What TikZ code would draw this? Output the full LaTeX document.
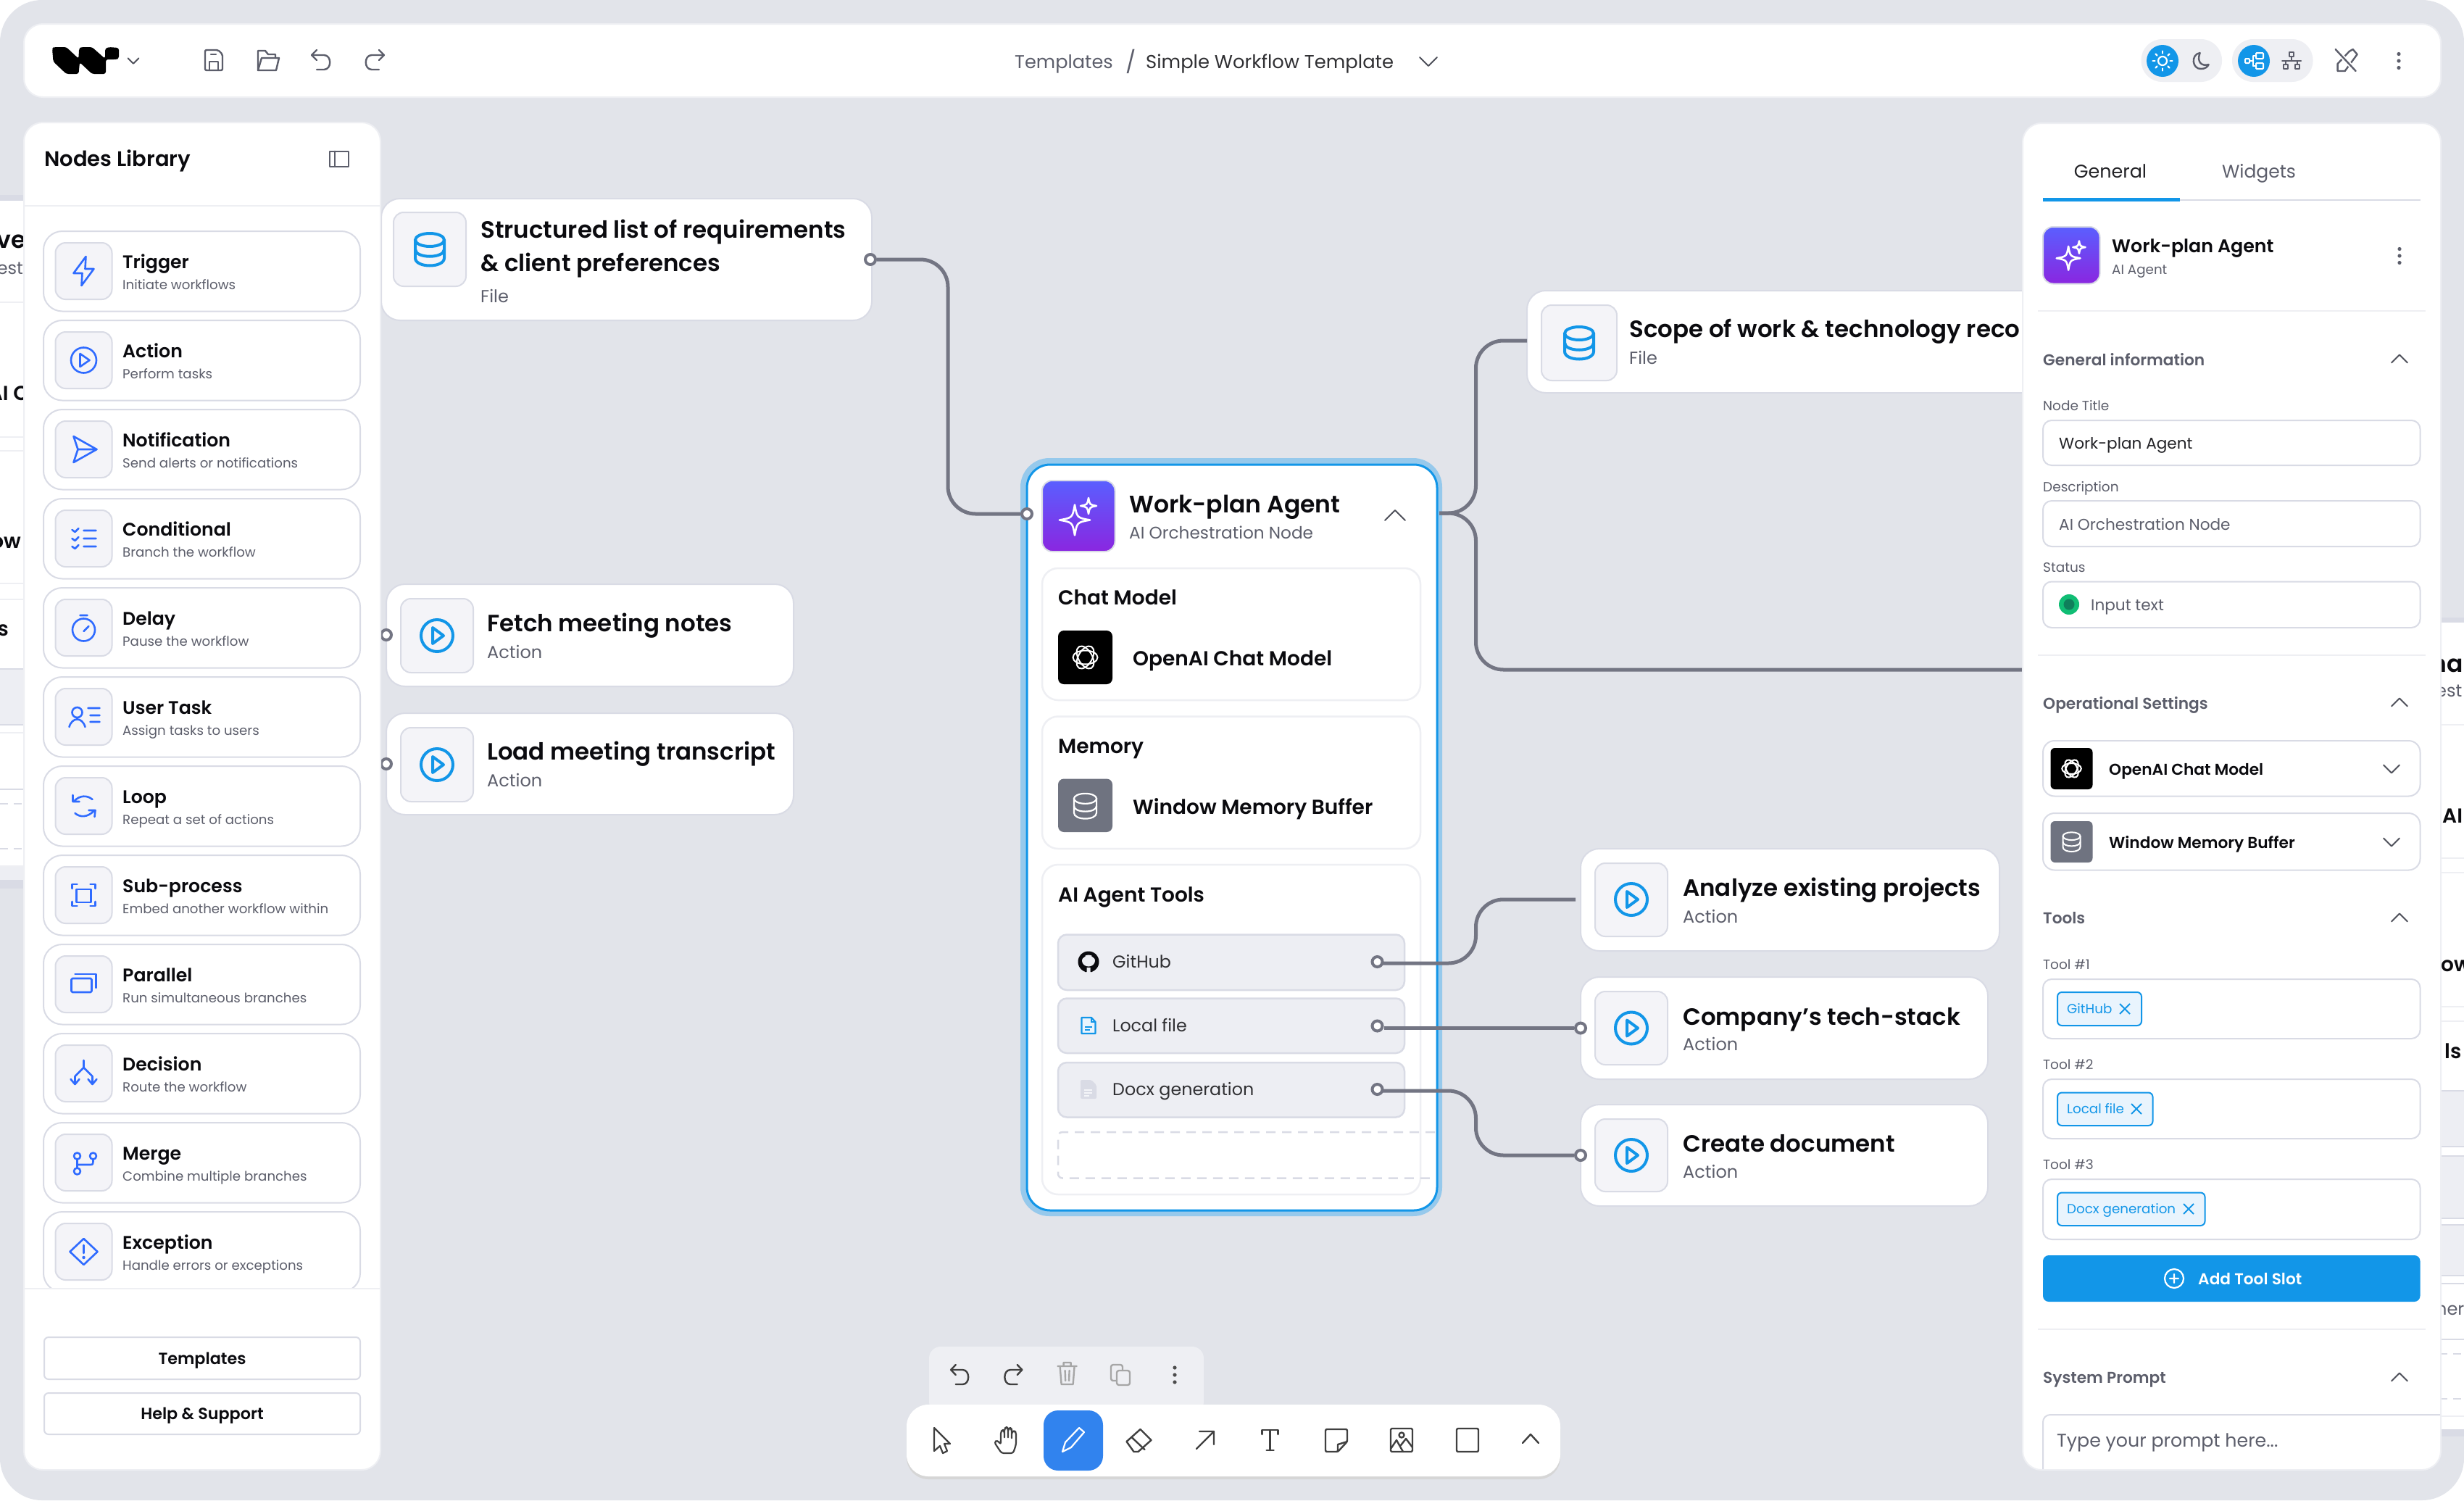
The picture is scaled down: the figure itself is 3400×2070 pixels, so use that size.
\documentclass[tikz,border=0pt]{standalone}
\usepackage{fontspec}
\setmainfont{Poppins}
\newfontfamily\pmed{Poppins Medium}
\newfontfamily\psem{Poppins SemiBold}
\usetikzlibrary{calc}
\definecolor{bgc}{HTML}{E2E4EA}
\definecolor{ink}{HTML}{0B0B0F}
\definecolor{mut}{HTML}{5C5E6B}
\definecolor{bord}{HTML}{D9DBE5}
\definecolor{soft}{HTML}{EEEFF3}
\definecolor{tile}{HTML}{F4F4F8}
\definecolor{row}{HTML}{EDEEF3}
\definecolor{lib}{HTML}{2F6BFF}
\definecolor{sky}{HTML}{1296E8}
\definecolor{glow}{HTML}{96C9EC}
\definecolor{wire}{HTML}{737583}
\definecolor{slate}{HTML}{6F7380}
\definecolor{tagbg}{HTML}{E9F4FD}
\definecolor{tbblue}{HTML}{3183EE}
\definecolor{grn}{HTML}{10BD74}
\definecolor{grnd}{HTML}{0F7F5B}
\definecolor{pur1}{HTML}{5A5FFF}
\definecolor{pur2}{HTML}{8A26E0}
\newcommand{\fR}[1]{\fontsize{#1}{#1}\selectfont}
\newcommand{\fM}[1]{\pmed\fontsize{#1}{#1}\selectfont}
\newcommand{\fS}[1]{\psem\fontsize{#1}{#1}\selectfont}
% box: style, name, x0,y0,x1,y1
\newcommand{\bx}[6]{\pgfmathsetmacro\bxw{#5-#3}\pgfmathsetmacro\bxh{#6-#4}\node[#1,anchor=north west,minimum width=\bxw pt,minimum height=\bxh pt,inner sep=0pt,outer sep=0pt] (#2) at (#3,#4) {};}
% label: name,x,y,font,colour,text
\newcommand{\lab}[6]{\node[anchor=base west,inner sep=0pt,text=#5,font=#4] (#1) at (#2,#3) {\raisebox{-.37em}{#6}};}
\newcommand{\labc}[6]{\node[anchor=base,inner sep=0pt,text=#5,font=#4] (#1) at (#2,#3) {\raisebox{-.37em}{#6}};}
\newcommand{\labe}[6]{\node[anchor=base east,inner sep=0pt,text=#5,font=#4] (#1) at (#2,#3) {\raisebox{-.37em}{#6}};}
% icons
\newcommand{\chevup}[3]{\draw[chev] (#1-#3,#2+#3*.5) -- (#1,#2-#3*.5) -- (#1+#3,#2+#3*.5);}
\newcommand{\chevdn}[3]{\draw[chev] (#1-#3,#2-#3*.5) -- (#1,#2+#3*.5) -- (#1+#3,#2-#3*.5);}
\newcommand{\kebab}[4]{\fill[#4] (#1,#2-#3) circle (2.6) (#1,#2) circle (2.6) (#1,#2+#3) circle (2.6);}
\newcommand{\play}[4]{\begin{scope}[shift={(#1,#2)},scale=#3]\draw[#4] (0,0) circle (22);\draw[#4,line join=round] (-6,-11) -- (9,0) -- (-6,11) -- cycle;\end{scope}}
\newcommand{\dbicon}[4]{\begin{scope}[shift={(#1,#2)},xscale=#3,yscale=#3]\draw[#4] (0,-13) ellipse (20 and 9);\draw[#4] (-20,-13) -- (-20,12) .. controls (-20,26) and (20,26) .. (20,12) -- (20,-13);\draw[#4] (-20,0) .. controls (-20,13) and (20,13) .. (20,0);\end{scope}}
\newcommand{\starpath}[3]{\draw[white,line width=2.6pt,line join=round] (#1,#2-#3) .. controls (#1+.15*#3,#2-.15*#3) .. (#1+#3,#2) .. controls (#1+.15*#3,#2+.15*#3) .. (#1,#2+#3) .. controls (#1-.15*#3,#2+.15*#3) .. (#1-#3,#2) .. controls (#1-.15*#3,#2-.15*#3) .. (#1,#2-#3) -- cycle;}
\newcommand{\sparkle}[3]{\begin{scope}[shift={(#1,#2)},scale=#3]\starpath{-5}{5.5}{21}\starpath{14}{-14}{11}\end{scope}}
\newcommand{\oai}[3]{\begin{scope}[shift={(#1,#2)},scale=#3]\foreach \oa in {0,60,120}{\draw[white,line width=2pt,rotate=\oa] (0,0) ellipse (17 and 9.5);}\end{scope}}
\newcommand{\undoic}[4]{\begin{scope}[shift={(#1,#2)},xscale=#3]\draw[#4] (-6,-14) -- (-13,-7) -- (-6,0);\draw[#4] (-13,-7) -- (4,-7) .. controls (15,-7) and (15,13) .. (4,13) -- (-6,13);\end{scope}}
\tikzset{
 chev/.style={draw=slate!70!black,line width=2pt,line cap=round,line join=round},
 ln/.style={draw=mut,line width=2.4pt,line cap=round,line join=round},
 ib/.style={draw=lib,line width=2.6pt,line cap=round,line join=round},
 wh/.style={draw=white,line width=2.2pt,line cap=round,line join=round},
 tb/.style={draw=black!75,line width=2.4pt,line cap=round,line join=round},
 gr/.style={draw=black!35,line width=2.4pt,line cap=round,line join=round},
 panel/.style={fill=white,draw=soft,line width=2pt,rounded corners=26pt},
 cardn/.style={fill=white,draw=bord,line width=2pt,rounded corners=26pt},
 libcard/.style={fill=white,draw=bord,line width=2pt,rounded corners=26pt},
 tilebox/.style={fill=tile,draw=bord,line width=2pt,rounded corners=14pt},
 section/.style={fill=white,draw=soft,line width=2.5pt,rounded corners=22pt},
 toolrow/.style={fill=row,draw=bord,line width=2.5pt,rounded corners=12pt},
 field/.style={fill=white,draw=bord,line width=2pt,rounded corners=12pt},
 tagn/.style={fill=tagbg,draw=sky,line width=2pt,rounded corners=6pt},
 btn/.style={fill=white,draw=bord,line width=2pt,rounded corners=6pt},
 conn/.style={draw=wire,line width=5pt},
 port/.style={circle,fill=white,draw=wire,line width=4pt,minimum size=14pt,inner sep=0pt},
 purple/.style={top color=pur1,bottom color=pur2,draw=bord,line width=2pt,rounded corners=14pt},
 div/.style={draw=soft,line width=2pt},
 strip/.style={draw=#1,line width=2pt},
}
% library card: name, top, icon code, title, sub
\newcommand{\libitem}[5]{%
 \pgfmathsetmacro\ty{#2}\pgfmathsetmacro\tbt{#2+110.5}
 \bx{libcard}{#1}{60}{\ty}{497}{\tbt}
 \pgfmathsetmacro\ia{#2+16}\pgfmathsetmacro\ib{#2+94}
 \bx{tilebox}{#1i}{76.5}{\ia}{154.5}{\ib}
 \pgfmathsetmacro\ic{#2+55}
 \begin{scope}[shift={(115.5,\ic)}]#3\end{scope}
 \pgfmathsetmacro\la{#2+42}\pgfmathsetmacro\lbb{#2+74}
 \lab{#1t}{169}{\la}{\fS{25.2}}{ink}{#4}
 \lab{#1s}{169}{\lbb}{\fR{18.2}}{mut}{#5}
}
\begin{document}
\begin{tikzpicture}[x=1pt,y=-1pt]
\useasboundingbox (0,0) rectangle (3400,2070);
\fill[white] (0,0) rectangle (3400,2070);
\fill[bgc,rounded corners=58pt] (0,0) rectangle (3400,2070);

% ---------- background fragments
\fill[bord] (0,269) rectangle (34,1226);
\fill[white] (0,277) rectangle (34,1215);
\fill[row] (0,923) rectangle (34,1000);
\fill[row] (0,1195) rectangle (34,1215);
\foreach \yy in {417,603,622,805,827,1011,1195}{\draw[strip=soft] (0,\yy) -- (34,\yy);}
\foreach \yy in {923,1000,1089,1215}{\draw[strip=bord] (0,\yy) -- (34,\yy);}
\draw[strip=bord,dash pattern=on 11pt off 8pt] (0,1109) -- (34,1109) (0,1171) -- (34,1171);
\labe{fragA}{36}{330}{\fS{33}}{ink}{ve}
\labe{fragB}{38}{370}{\fR{24}}{mut}{esti}
\labe{fragC}{40}{542}{\fS{28}}{ink}{AI C}
\labe{fragD}{29}{746}{\fS{28}}{ink}{ow}
\labe{fragE}{12}{867}{\fS{28}}{ink}{s}
\fill[bord] (3366,852) rectangle (3400,1982);
\fill[white] (3366,859) rectangle (3400,1972);
\fill[row] (3366,1505) rectangle (3400,1582);
\fill[row] (3366,1595) rectangle (3400,1681);
\fill[row] (3366,1690) rectangle (3400,1760);
\foreach \yy in {1000,1184,1204,1389,1409,1954}{\draw[strip=soft] (3366,\yy) -- (3400,\yy);}
\foreach \yy in {1505,1582,1595,1681,1690,1760,1771,1848}{\draw[strip=bord] (3366,\yy) -- (3400,\yy);}
\draw[strip=bord,dash pattern=on 11pt off 8pt] (3366,1868) -- (3400,1868) (3366,1930) -- (3400,1930);
\lab{fragF}{3354}{915}{\fS{33}}{ink}{na}
\lab{fragG}{3361}{953}{\fR{24}}{mut}{est}
\lab{fragH}{3370}{1125}{\fS{28}}{ink}{AI}
\lab{fragI}{3368}{1330}{\fS{28}}{ink}{ow}
\lab{fragJ}{3373}{1450}{\fS{28}}{ink}{ls}
\lab{fragK}{3361}{1806}{\fR{24}}{mut}{ner}

% ---------- canvas nodes
\bx{cardn}{cStruct}{526}{274}{1203}{442}
\bx{tilebox}{cStructI}{543}{293}{643}{395}
\dbicon{593}{344}{1}{draw=sky,line width=4pt}
\lab{cStructT1}{663}{316}{\fS{32.5}}{ink}{Structured list of requirements}
\lab{cStructT2}{663}{362}{\fS{32.5}}{ink}{\& client preferences}
\lab{cStructS}{663}{409}{\fR{24}}{mut}{File}

\bx{cardn}{cScope}{2107}{401}{2830}{542}
\bx{tilebox}{cScopeI}{2127}{421}{2231}{525}
\dbicon{2179}{473}{1}{draw=sky,line width=4pt}
\lab{cScopeT}{2248}{453}{\fS{32.5}}{ink}{Scope of work \& technology reco}
\lab{cScopeS}{2248}{494}{\fR{24}}{mut}{File}

\bx{cardn}{cFetch}{533}{806}{1095}{947}
\bx{tilebox}{cFetchI}{553}{826}{653}{928}
\play{603}{877}{1}{draw=sky,line width=4pt}
\lab{cFetchT}{672}{859}{\fS{32.5}}{ink}{Fetch meeting notes}
\lab{cFetchS}{672}{900}{\fR{24}}{mut}{Action}

\bx{cardn}{cLoad}{533}{984}{1095}{1124}
\bx{tilebox}{cLoadI}{553}{1004}{653}{1106}
\play{603}{1055}{1}{draw=sky,line width=4pt}
\lab{cLoadT}{672}{1036}{\fS{32.5}}{ink}{Load meeting transcript}
\lab{cLoadS}{672}{1077}{\fR{24}}{mut}{Action}

\bx{cardn}{cAnalyze}{2181}{1171}{2759}{1312}
\bx{tilebox}{cAnalyzeI}{2201}{1191}{2301}{1292}
\play{2251}{1241}{1}{draw=sky,line width=4pt}
\lab{cAnalyzeT}{2322}{1224}{\fS{32.5}}{ink}{Analyze existing projects}
\lab{cAnalyzeS}{2322}{1265}{\fR{24}}{mut}{Action}

\bx{cardn}{cStack}{2181}{1348}{2743}{1489}
\bx{tilebox}{cStackI}{2201}{1368}{2301}{1469}
\play{2251}{1418.5}{1}{draw=sky,line width=4pt}
\lab{cStackT}{2322}{1402}{\fS{32.5}}{ink}{Company’s tech-stack}
\lab{cStackS}{2322}{1441}{\fR{24}}{mut}{Action}

\bx{cardn}{cDoc}{2181}{1524}{2743}{1664}
\bx{tilebox}{cDocI}{2201}{1544}{2301}{1644}
\play{2251}{1594}{1}{draw=sky,line width=4pt}
\lab{cDocT}{2322}{1577}{\fS{32.5}}{ink}{Create document}
\lab{cDocS}{2322}{1617}{\fR{24}}{mut}{Action}

% ---------- main agent card
\bx{fill=glow,rounded corners=40pt}{mGlow}{1408}{632}{1990}{1678}
\bx{fill=white,draw=sky,line width=3pt,rounded corners=32pt}{mCard}{1417}{641}{1983}{1670}
\bx{purple}{mIcon}{1438}{663}{1538.5}{761}
\sparkle{1488}{712}{1}
\lab{mTitle}{1558}{695}{\fS{33}}{ink}{Work-plan Agent}
\lab{mSub}{1558}{735}{\fR{23.2}}{mut}{AI Orchestration Node}
\chevup{1925}{711}{14}
\bx{section}{sChat}{1438}{784}{1960}{966}
\lab{sChatT}{1460}{824}{\fS{28}}{ink}{Chat Model}
\bx{fill=black,rounded corners=8pt}{sChatI}{1460}{870}{1535}{944}
\oai{1497.5}{907}{1}
\lab{sChatN}{1563}{908}{\fS{28}}{ink}{OpenAI Chat Model}
\bx{section}{sMem}{1438}{988.5}{1960}{1171}
\lab{sMemT}{1460}{1029}{\fS{28}}{ink}{Memory}
\bx{fill=slate,rounded corners=8pt}{sMemI}{1460}{1074.5}{1535}{1148}
\dbicon{1497.5}{1112}{.78}{draw=white,line width=2.2pt}
\lab{sMemN}{1563}{1113}{\fS{28}}{ink}{Window Memory Buffer}
\bx{section}{sTool}{1438}{1193}{1960}{1648}
\lab{sToolT}{1460}{1234}{\fS{28}}{ink}{AI Agent Tools}
\bx{toolrow}{rGit}{1460}{1289.5}{1938}{1366}
\bx{toolrow}{rLoc}{1460}{1377.5}{1938}{1453}
\bx{toolrow}{rDoc}{1460}{1466}{1938}{1541.5}
\lab{rGitT}{1535}{1327}{\fR{23.8}}{ink!85}{GitHub}
\lab{rLocT}{1535}{1415}{\fR{23.8}}{ink!85}{Local file}
\lab{rDocT}{1535}{1503}{\fR{23.8}}{ink!85}{Docx generation}
% github mark
\begin{scope}[shift={(1502,1327)}]
 \fill[ink] (0,0) circle (14.5);
 \fill[row] (0,-1.5) ellipse (9 and 8);
 \fill[row] (-5,8) rectangle (5,16);
 \fill[ink] (-10,-11) -- (-4,-8) -- (-9,-4) -- cycle (10,-11) -- (4,-8) -- (9,-4) -- cycle;
 \fill[ink] (-5,7) rectangle (-2.5,14) (2.5,7) rectangle (5,14);
 \fill[row] (-16,15) rectangle (16,17);
\end{scope}
% local file
\begin{scope}[shift={(1502,1415)}]
 \draw[draw=sky,line width=2.2pt,line join=round,fill=tagbg] (-9.5,-11) -- (4,-11) -- (9.5,-5) -- (9.5,11) -- (-9.5,11) -- cycle;
 \draw[draw=sky,line width=1.8pt] (4,-11) -- (4,-5) -- (9.5,-5) (-5,2) -- (5,2) (-5,6) -- (2,6);
\end{scope}
% docx
\begin{scope}[shift={(1502,1503)}]
 \fill[bord,rounded corners=2pt] (-11,-13) -- (4,-13) -- (11,-6) -- (11,13) -- (-11,13) -- cycle;
 \draw[draw=row!60!white,line width=1.4pt] (-6,1) -- (5,1) (-6,5) -- (5,5) (-6,9) -- (1,9);
\end{scope}
\draw[draw=bord,line width=2.5pt,dash pattern=on 13pt off 9pt,rounded corners=6pt] (1980,1562) -- (1460,1562) -- (1460,1625.5) -- (1980,1625.5);

% ---------- connectors
\coordinate (busL) at (1308,0);
\coordinate (busR) at (2036.5,0);
\coordinate (mOut) at (1986,708);
\coordinate (scopeIn) at (2107,470);
\coordinate (rightOut) at (2830,924);
\coordinate (analyzeIn) at (2174,1241);
\coordinate (gitOut) at (1908,1329);
\coordinate (docOut) at (1908,1505);
\node[port] (pStruct) at (1201,358) {};
\node[port] (pMain) at (1417,709) {};
\node[port] (pFetch) at (533,876) {};
\node[port] (pLoad) at (533,1054) {};
\node[port] (pGit) at (1900.5,1327) {};
\node[port] (pLoc) at (1900.5,1415.5) {};
\node[port] (pDoc) at (1900.5,1503) {};
\node[port] (pStack) at (2181,1418.5) {};
\node[port] (pCreate) at (2181,1594) {};
\draw[conn,rounded corners=38pt] (pStruct.east) -- (pStruct.center -| busL) -- (pMain.center -| busL) -- (pMain.west);
\draw[conn,rounded corners=38pt] (mOut) -- (mOut -| busR) -- (scopeIn -| busR) -- (scopeIn);
\draw[conn,rounded corners=38pt] (mOut) -- (mOut -| busR) -- (rightOut -| busR) -- (rightOut);
\draw[conn,rounded corners=38pt] (gitOut) -- (gitOut -| busR) -- (analyzeIn -| busR) -- (analyzeIn);
\draw[conn] (pLoc.east |- pStack.center) -- (pStack.west);
\draw[conn,rounded corners=38pt] (docOut) -- (docOut -| busR) -- (pCreate.center -| busR) -- (pCreate.west);

% ---------- top bar
\bx{panel}{topbar}{33}{33}{3368}{134}
\fill[black,rounded corners=3pt] (74,65) -- (91.5,65) -- (108.5,81) -- (109,67) -- (112,65) -- (127,65) -- (145,81) -- (145,67) -- (150,65) -- (164,66) -- (164,81) -- (160,82) -- (146,82) -- (146,102) -- (127,102) -- (110,86) -- (108.5,102) -- (91.5,102) -- (73.5,85) -- (72,67) -- cycle;
\chevdn{184}{84}{7.5}
\begin{scope}[shift={(295,83)}]
 \draw[ln,rounded corners=2pt] (-12,-14) -- (6,-14) -- (12,-8) -- (12,14) -- (-12,14) -- cycle;
 \draw[ln] (-6,14) -- (-6,2) -- (6,2) -- (6,14) (-4,-8) -- (3,-8);
\end{scope}
\begin{scope}[shift={(370,83)}]
 \draw[ln] (-14,14) -- (-14,-13) -- (-4,-13) -- (0,-8) -- (10,-8) -- (10,-3);
 \draw[ln] (-14,14) -- (-9,-3) -- (15,-3) -- (11,14) -- cycle;
\end{scope}
\undoic{443}{83}{1}{ln}
\undoic{517}{83}{-1}{ln}
\lab{crumbA}{1400}{85}{\fR{25.6}}{mut}{Templates}
\lab{crumbS}{1553}{85}{\fR{30}}{mut}{/}
\lab{crumbB}{1581}{85}{\fR{25.8}}{ink!85}{Simple Workflow Template}
\chevdn{1971}{85}{12}
\bx{fill=soft,rounded corners=29pt}{pillA}{2954.5}{54}{3066}{113}
\bx{fill=soft,rounded corners=29pt}{pillB}{3080}{54}{3191.5}{113}
\node[circle,fill=sky,minimum size=44pt,inner sep=0pt] (onA) at (2984,84) {};
\node[circle,fill=sky,minimum size=44pt,inner sep=0pt] (onB) at (3110,84) {};
\begin{scope}[shift={(2984,84)}]
 \draw[wh] (0,0) circle (6);
 \foreach \sa in {0,45,...,315}{\draw[wh] (\sa:10.5) -- (\sa:13.5);}
\end{scope}
\begin{scope}[shift={(3036.6,84)}]
 \draw[ln] (-1,-11) .. controls (-14,-9) and (-12,12) .. (1,11) .. controls (6,11) and (10,8) .. (11,5) .. controls (2,8) and (-6,2) .. (-1,-11) -- cycle;
\end{scope}
\begin{scope}[shift={(3110,84)}]
 \draw[wh,line width=2pt,rounded corners=1pt] (-12,-3) rectangle (-6,3) (3,-11) rectangle (13,-3) (3,3) rectangle (13,11);
 \draw[wh,line width=2pt] (-6,0) -- (-1,0) (-1,-7) -- (-1,7) (-1,-7) -- (3,-7) (-1,7) -- (3,7);
\end{scope}
\begin{scope}[shift={(3162,84)}]
 \draw[ln,line width=2pt] (-3,-12) rectangle (3,-6) (-11,5) rectangle (-5,11) (5,5) rectangle (11,11);
 \draw[ln,line width=2pt] (0,-6) -- (0,0) (-13,0) -- (13,0) (-8,0) -- (-8,5) (8,0) -- (8,5);
\end{scope}
\begin{scope}[shift={(3236.6,83)}]
 \draw[ln] (-11,15) -- (-11,5) -- (5,-12) -- (10,-15) -- (16,-8) -- (-1,15) -- cycle;
 \draw[draw=white,line width=6pt] (-14,-15) -- (14,15);
 \draw[ln] (-14,-15) -- (14,15);
\end{scope}
\kebab{3310}{84}{9.5}{mut}

% ---------- left panel
\bx{panel}{leftP}{33}{169}{525}{2028}
\lab{libT}{61}{219}{\fS{29}}{ink}{Nodes Library}
\begin{scope}[shift={(468,219)}]
 \draw[ln,line width=2pt] (-13,-10.5) rectangle (13,10.5) (-6.5,-10.5) -- (-6.5,10.5);
\end{scope}
\draw[div] (33,284) -- (525,284);
\begin{scope}
\clip (33,284) rectangle (525,1778);
\libitem{lTrigger}{319}{\draw[ib] (3,-20) -- (-14,3) -- (-2,3) -- (-3,20) -- (14,-3) -- (2,-3) -- cycle;}{Trigger}{Initiate workflows}
\libitem{lAction}{442}{\draw[ib] (0,0) circle (17.5);\draw[ib] (-5,-9) -- (8,0) -- (-5,9) -- cycle;}{Action}{Perform tasks}
\libitem{lNotif}{565}{\draw[ib] (-14,-18) -- (18,0) -- (-14,18) -- (-8,0) -- cycle (-8,0) -- (18,0);}{Notification}{Send alerts or notifications}
\libitem{lCond}{688}{\draw[ib] (-16,-12) -- (-12,-9) -- (-7,-14) (-16,0) -- (-12,3) -- (-7,-2) (-16,11) -- (-12,14) -- (-7,9) (0,-11) -- (17,-11) (0,0) -- (17,0) (0,11) -- (17,11);}{Conditional}{Branch the workflow}
\libitem{lDelay}{811}{\draw[ib] (0,3) circle (15.5) (-5,-17) -- (5,-17) (0,5) -- (7,-2);}{Delay}{Pause the workflow}
\libitem{lUser}{934}{\draw[ib] (-9,-6) circle (7) (-20,14) .. controls (-16,0) and (-2,0) .. (2,14) (6,-12) -- (22,-12) (9,-2) -- (22,-2) (9,7) -- (22,7);}{User Task}{Assign tasks to users}
\libitem{lLoop}{1057}{\draw[ib] (-13,-7) .. controls (-5,-15) and (5,-15) .. (12,-9) (-15,-15) -- (-15,-6) -- (-6,-6) (-12,10) .. controls (-5,16) and (5,16) .. (14,7) (15,15) -- (16,6) -- (7,6);}{Loop}{Repeat a set of actions}
\libitem{lSub}{1180}{\draw[ib] (-10,-8) rectangle (10,10) (-16,-9) -- (-16,-15) -- (-9,-15) (9,-15) -- (16,-15) -- (16,-9) (-16,9) -- (-16,15) -- (-9,15) (9,15) -- (16,15) -- (16,9);}{Sub-process}{Embed another workflow within}
\libitem{lPar}{1303}{\draw[ib,rounded corners=1.5pt] (-17,-8) rectangle (11,11);\draw[ib] (-12,-14) -- (17,-14) -- (17,5);}{Parallel}{Run simultaneous branches}
\libitem{lDec}{1426}{\draw[ib] (0,-18) -- (0,-8) (-12,4) -- (0,-8) -- (12,4) (-12,4) -- (-12,14) (12,4) -- (12,14) (-18,8) -- (-12,15) -- (-6,8) (6,8) -- (12,15) -- (18,8);}{Decision}{Route the workflow}
\libitem{lMerge}{1549}{\draw[ib] (-9,-9) circle (4.5) (-9,12) circle (4.5) (13,-9) circle (4.5) (-9,-4.5) -- (-9,7.5) (-9,3) -- (8,3) .. controls (13,3) .. (13,-4.5);}{Merge}{Combine multiple branches}
\libitem{lExc}{1672}{\draw[ib] (0,-18) -- (19,0) -- (0,18) -- (-19,0) -- cycle (0,-9) -- (0,2);\fill[lib] (0,8) circle (2.2);}{Exception}{Handle errors or exceptions}
\end{scope}
\draw[div] (33,1778) -- (525,1778);
\bx{btn}{bTpl}{61}{1845}{497}{1903}
\labc{bTplT}{279}{1874}{\fS{22.3}}{ink}{Templates}
\bx{btn}{bHelp}{61}{1922}{497}{1979}
\labc{bHelpT}{279}{1950}{\fS{22.3}}{ink}{Help \& Support}

% ---------- right panel
\bx{panel}{rightP}{2791}{170}{3368}{2028}
\labc{tabG}{2912}{236}{\fR{25.4}}{ink!90}{General}
\labc{tabW}{3117}{236}{\fR{25}}{mut}{Widgets}
\draw[draw=bord,line width=2.5pt] (2819,276) -- (3339.5,276);
\fill[sky] (2819,273) rectangle (3008,278);
\bx{purple}{rIcon}{2819}{313}{2897.5}{391.5}
\sparkle{2858}{352}{.78}
\lab{rTitle}{2914}{339}{\fS{25.3}}{ink}{Work-plan Agent}
\lab{rSub}{2914}{372}{\fR{18.3}}{mut}{AI Agent}
\kebab{3311}{353}{9.5}{mut}
\draw[div] (2812,429) -- (3347,429);
\lab{hGen}{2819}{496}{\fS{21.7}}{mut}{General information}
\chevup{3311}{495}{11}
\lab{lTitle}{2819}{560}{\fR{18.5}}{mut}{Node Title}
\bx{field}{fTitle}{2819}{580}{3339.5}{642}
\lab{fTitleT}{2841}{611}{\fR{21.6}}{ink!90}{Work-plan Agent}
\lab{lDesc}{2819}{672}{\fR{18.5}}{mut}{Description}
\bx{field}{fDesc}{2819}{691}{3339.5}{754}
\lab{fDescT}{2841}{723}{\fR{21.6}}{mut}{AI Orchestration Node}
\lab{lStat}{2819}{783}{\fR{18.5}}{mut}{Status}
\bx{field}{fStat}{2819}{802.5}{3339.5}{866}
\fill[grn] (2855,834) circle (14);
\fill[grnd] (2855,834) circle (7.5);
\lab{fStatT}{2885}{834}{\fR{21.6}}{mut}{Input text}
\draw[div] (2812,904) -- (3347,904);
\lab{hOp}{2819}{970}{\fS{21.7}}{mut}{Operational Settings}
\chevup{3311}{969}{11}
\bx{field,rounded corners=16pt}{fOai}{2819}{1022}{3339.5}{1098.5}
\bx{fill=black,rounded corners=6pt}{fOaiI}{2829.5}{1032}{2887.5}{1089}
\oai{2858.5}{1060.5}{.78}
\lab{fOaiT}{2910}{1061}{\fS{21.7}}{ink}{OpenAI Chat Model}
\chevdn{3300}{1061}{11}
\bx{field,rounded corners=16pt}{fMem}{2819}{1122}{3339.5}{1200.5}
\bx{fill=slate,rounded corners=6pt}{fMemI}{2829.5}{1133}{2887.5}{1190}
\dbicon{2858.5}{1161.5}{.6}{draw=white,line width=2pt}
\lab{fMemT}{2910}{1162}{\fS{21.7}}{ink}{Window Memory Buffer}
\chevdn{3300}{1162}{11}
\lab{hTools}{2819}{1266}{\fS{21.7}}{mut}{Tools}
\chevup{3311}{1266}{11}
\lab{t1L}{2819}{1331}{\fR{18.5}}{mut}{Tool \#1}
\bx{field}{t1F}{2819}{1351}{3339.5}{1433}
\bx{tagn}{t1G}{2839}{1369}{2955}{1415}
\lab{t1T}{2852}{1392}{\fR{18.3}}{sky}{GitHub}
\draw[draw=sky,line width=2pt] (2925,1385) -- (2939,1399) (2939,1385) -- (2925,1399);
\lab{t2L}{2819}{1469}{\fR{18.5}}{mut}{Tool \#2}
\bx{field}{t2F}{2819}{1489}{3339.5}{1571}
\bx{tagn}{t2G}{2839}{1507.5}{2970.5}{1553}
\lab{t2T}{2852}{1530}{\fR{18.3}}{sky}{Local file}
\draw[draw=sky,line width=2pt] (2941,1523) -- (2955,1537) (2955,1523) -- (2941,1537);
\lab{t3L}{2819}{1607}{\fR{18.5}}{mut}{Tool \#3}
\bx{field}{t3F}{2819}{1627}{3339.5}{1710}
\bx{tagn}{t3G}{2839}{1645.5}{3042.5}{1691}
\lab{t3T}{2852}{1668}{\fR{18.3}}{sky}{Docx generation}
\draw[draw=sky,line width=2pt] (3013,1661) -- (3027,1675) (3027,1661) -- (3013,1675);
\bx{fill=sky,rounded corners=8pt}{bAdd}{2819}{1732}{3339.5}{1796}
\draw[wh] (3000,1764) circle (13) (2994,1764) -- (3006,1764) (3000,1758) -- (3000,1770);
\lab{bAddT}{3033}{1764}{\fS{21.7}}{white}{Add Tool Slot}
\draw[div] (2812,1833.5) -- (3347,1833.5);
\lab{hSys}{2819}{1900}{\fS{21.7}}{mut}{System Prompt}
\chevup{3311}{1900}{11}
\draw[draw=bord,line width=2pt,rounded corners=10pt] (2819,2027) -- (2819,1952) -- (3367,1952);
\lab{fSysT}{2838}{1987}{\fR{25.3}}{mut}{Type your prompt here...}

% ---------- bottom toolbars
\bx{fill=soft,rounded corners=16pt}{barUp}{1282}{1858}{1661}{1950}
\undoic{1324.5}{1897}{.95}{tb}
\undoic{1398}{1897}{-.95}{tb}
\begin{scope}[shift={(1472.6,1897)}]
 \draw[gr] (-13,-12) -- (13,-12) (-5,-12) -- (-5,-17) -- (5,-17) -- (5,-12) (-10,-12) -- (-8,13) -- (8,13) -- (10,-12) (-3,-6) -- (-2.5,8) (3,-6) -- (2.5,8);
\end{scope}
\begin{scope}[shift={(1546,1897)}]
 \draw[gr,rounded corners=3pt] (-5,-6) rectangle (13,14);
 \draw[gr,rounded corners=3pt] (-5,8) -- (-13,8) -- (-13,-14) -- (3,-14) -- (3,-6);
\end{scope}
\kebab{1621}{1897}{10}{black!70}
\fill[black!16,rounded corners=30pt] (1251,1942) rectangle (2153,2041);
\bx{fill=white,rounded corners=30pt}{barMain}{1251}{1938}{2153}{2037}
\bx{fill=tbblue,rounded corners=20pt}{barPen}{1440}{1946}{1522}{2029}
\begin{scope}[shift={(1300,1987)}]
 \draw[tb,line width=2.2pt] (-11,-17) -- (11,5) -- (3,5) -- (7,15) -- (1,18) -- (-3,8) -- (-11,15) -- cycle;
\end{scope}
\begin{scope}[shift={(1390,1987)}]
 \draw[tb,rounded corners=3pt,line width=2.2pt] (-8,18) -- (-18,3) -- (-14,0) -- (-9,6) -- (-9,-12) -- (-6,-14) -- (-4,-12) -- (-4,-2) -- (-4,-16) -- (-1,-18) -- (1,-16) -- (1,-2) -- (1,-15) -- (4,-17) -- (6,-15) -- (6,-1) -- (6,-11) -- (9,-13) -- (12,-11) -- (12,6) -- (8,18) -- cycle;
\end{scope}
\begin{scope}[shift={(1481,1987)}]
 \draw[wh] (-15,16) -- (-11,3) -- (8,-17) -- (15,-11) -- (-3,10) -- cycle;
\end{scope}
\begin{scope}[shift={(1571.5,1987)}]
 \draw[tb] (-17,2) -- (2,-15) -- (17,0) -- (-1,16) -- (-7,16) -- cycle (-10,-4) -- (8,13);
\end{scope}
\begin{scope}[shift={(1663,1987)}]
 \draw[tb] (-12,12) -- (12,-12) (-8,-12) -- (12,-12) -- (12,6);
\end{scope}
\begin{scope}[shift={(1752.6,1987)}]
 \draw[tb] (0,-14) -- (0,14) (-5,14) -- (5,14) (-11,-8) -- (-11,-14) -- (11,-14) -- (11,-8);
\end{scope}
\begin{scope}[shift={(1844,1987)}]
 \draw[tb,rounded corners=2pt] (-15,-15) -- (-15,16) -- (2,16) -- (15,2) -- (15,-15) -- cycle;
 \draw[tb] (2,16) -- (2,6) -- (15,2);
\end{scope}
\begin{scope}[shift={(1934,1987)}]
 \draw[tb,rounded corners=1.5pt] (-15,-16) rectangle (15,16);
 \draw[tb] (0,-7) circle (3.5) (-15,12) -- (-7,0) -- (2,16) (-1,7) -- (6,-2) -- (15,10);
\end{scope}
\begin{scope}[shift={(2025,1987)}]
 \draw[tb,rounded corners=2pt] (-15,-16) rectangle (15,16);
\end{scope}
\begin{scope}[shift={(2112,1987)}]
 \draw[tb] (-11,4) -- (0,-8) -- (11,4);
\end{scope}
\end{tikzpicture}
\end{document}
